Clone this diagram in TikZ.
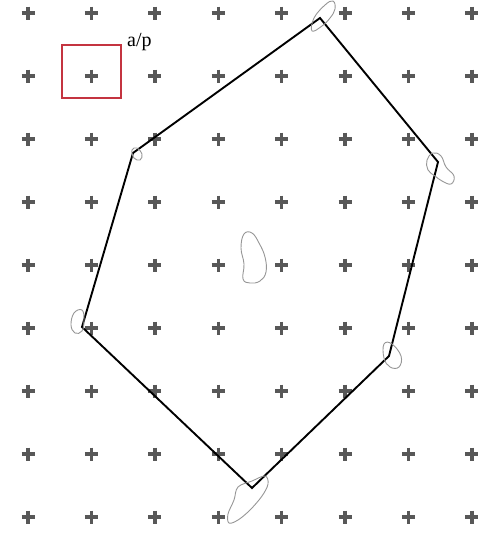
\documentclass[tikz,border=0pt]{standalone}
\usepackage{fontspec}
\setmainfont{Liberation Serif}
\usepackage{tikz}
\usetikzlibrary{positioning}
\definecolor{boxred}{RGB}{196,52,64}
\definecolor{crossgray}{RGB}{88,88,88}
\definecolor{bloboutline}{RGB}{150,150,150}

\begin{document}
\begin{tikzpicture}[x=1pt, y=-1pt,
    cross/.style={crossgray, line width=3.4pt},
    hull/.style={black, line width=1.9pt, line join=miter},
    blob/.style={bloboutline, line width=0.9pt},
    window/.style={rectangle, draw=boxred, line width=1.2pt,
                   minimum width=59pt, minimum height=53pt, inner sep=0pt}
]
    \useasboundingbox (0,0) rectangle (484,538);

    % Grid of crosses
    \foreach \i in {0,...,7}
        \foreach \j in {0,...,8}
            \draw[cross] ({28+63.4*\i},{13+63*\j}) +(-6.5,0) -- +(6.5,0) +(0,-6.5) -- +(0,6.5);

    % Window round one cross
    \node[window] (win) at (91.5,71.5) {};
    \node[font=\fontsize{20}{22}\selectfont, anchor=south west, inner sep=1pt] (ap) at (126,52) {a/p};

    % Hull vertices
    \coordinate (vtop) at (320,18);
    \coordinate (vright) at (438,162);
    \coordinate (vlowr) at (389,356);
    \coordinate (vbot) at (252,488);
    \coordinate (vleft) at (82,327);
    \coordinate (vupl) at (133,153);
    \draw[hull] (vtop) -- (vright) -- (vlowr) -- (vbot) -- (vleft) -- (vupl) -- cycle;

    % Blobs
    \draw[blob] plot[smooth cycle, tension=0.7] coordinates {
        (312,31) (314,18) (325,5) (333,1) (335,9) (330,18) (322,26)};
    \draw[blob] plot[smooth cycle, tension=0.7] coordinates {
        (427,160) (433,153) (441,156) (446,167) (454,176) (451,184) (442,181) (435,176) (428,170)};
    \draw[blob] plot[smooth cycle, tension=0.7] coordinates {
        (244,234) (252,233) (259,243) (265,257) (266,272) (260,281) (250,283) (243,279) (244,264) (241,248)};
    \draw[blob] plot[smooth cycle, tension=0.7] coordinates {
        (74,313) (82,310) (84,320) (82,331) (75,333) (71,325)};
    \draw[blob] plot[smooth cycle, tension=0.7] coordinates {
        (384,344) (392,344) (401,356) (399,367) (390,367) (384,358)};
    \draw[blob] plot[smooth cycle, tension=0.6] coordinates {
        (238,487) (252,481) (265,476) (268,484) (262,496) (250,510) (238,520) (229,523) (228,514) (234,500)};

    % small blob at the upper-left corner
    \draw[blob] plot[smooth cycle, tension=0.7] coordinates {
        (132,150) (137,148) (142,154) (140,160) (134,158)};
\end{tikzpicture}
\end{document}
